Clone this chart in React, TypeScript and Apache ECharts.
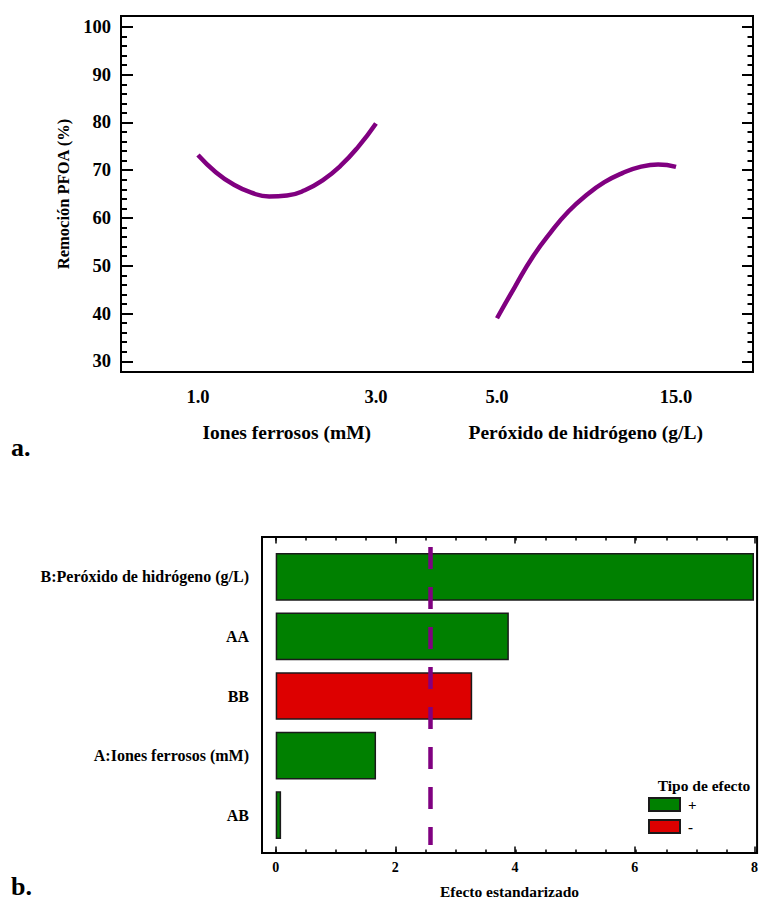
import React, { useEffect, useRef } from 'react';
import * as echarts from 'echarts';

const FONT = "'Liberation Serif', 'Times New Roman', Times, serif";
const PURPLE = '#800080';
const GREEN = '#008000';
const RED = '#DD0000';

// Panel a: main effects for PFOA removal
const ironLevels = [1.0, 1.2, 1.4, 1.6, 1.8, 2.0, 2.2, 2.4, 2.6, 2.8, 3.0];
const ironRemoval = [73.2, 69.6, 67.0, 65.3, 64.5, 64.7, 65.8, 67.9, 70.9, 74.9, 79.8];
const peroxideLevels = [5, 6, 7, 8, 9, 10, 11, 12, 13, 14, 15];
const peroxideRemoval = [39.0, 45.6, 51.9, 57.0, 61.4, 64.8, 67.5, 69.4, 70.7, 71.2, 70.7];
const removalTicks = [30, 40, 50, 60, 70, 80, 90, 100];
const removalMinorTicks = [30, 32, 34, 36, 38, 40, 42, 44, 46, 48, 50, 52, 54, 56, 58, 60, 62, 64, 66, 68, 70, 72, 74, 76, 78, 80, 82, 84, 86, 88, 90, 92, 94, 96, 98, 100];
const ironTicks = [1, 3];
const peroxideTicks = [5, 15];

// Panel b: standardized Pareto chart
const effectTerms = ['B:Peróxido de hidrógeno (g/L)', 'AA', 'BB', 'A:Iones ferrosos (mM)', 'AB'];
const effectValues = [7.96, 3.88, 3.27, 1.67, 0.09];
const effectSigns = ['+', '+', '-', '+', '+'];
const effectTicks = [0, 2, 4, 6, 8];
const effectMinorTicks = [0, 0.5, 1, 1.5, 2, 2.5, 3, 3.5, 4, 4.5, 5, 5.5, 6, 6.5, 7, 7.5, 8];
const criticalValue = 2.571;

const Y_MIN = 27.75;
const Y_MAX = 102.3;
const E_MIN = -0.228;
const E_MAX = 8.043;

const bold = (size: number) => ({ fontFamily: FONT, fontWeight: 'bold' as const, fontSize: size, color: '#000' });

export default function App() {
  const ref = useRef<HTMLDivElement>(null);

  useEffect(() => {
    if (!ref.current) return;
    const chart = echarts.init(ref.current, undefined, { renderer: 'svg' });

    const hiddenValue = (gridIndex: number, min = 0, max = 1) => ({ type: 'value', gridIndex, show: false, min, max });

    const option: any = {
      animation: false,
      backgroundColor: '#fff',
      textStyle: { fontFamily: FONT },
      grid: [
        { left: 121, top: 16, width: 632, height: 356, show: true, borderColor: '#000', borderWidth: 2, backgroundColor: 'transparent' },
        { left: 121, top: 16, width: 632, height: 356 },
        { left: 121, top: 16, width: 315.5, height: 356 },
        { left: 436.5, top: 16, width: 316.5, height: 356 },
        { left: 262, top: 537, width: 497, height: 316, show: true, borderColor: '#000', borderWidth: 2, backgroundColor: 'transparent' },
        { left: 262, top: 537, width: 497, height: 316 },
        { left: 262, top: 547, width: 497, height: 298 },
      ],
      xAxis: [
        hiddenValue(0),
        hiddenValue(1),
        {
          type: 'value', gridIndex: 2, min: 0.135, max: 3.68,
          axisLine: { show: false }, axisTick: { show: false }, splitLine: { show: false },
          axisLabel: { ...bold(18.5), margin: 15, customValues: ironTicks, formatter: (v: number) => v.toFixed(1) },
          name: 'Iones ferrosos (mM)', nameLocation: 'middle', nameGap: 50,
          nameTextStyle: { ...bold(19.5), padding: [0, 0, 0, 16] },
        },
        {
          type: 'value', gridIndex: 3, min: 1.62, max: 19.3,
          axisLine: { show: false }, axisTick: { show: false }, splitLine: { show: false },
          axisLabel: { ...bold(18.5), margin: 15, customValues: peroxideTicks, formatter: (v: number) => v.toFixed(1) },
          name: 'Peróxido de hidrógeno (g/L)', nameLocation: 'middle', nameGap: 50,
          nameTextStyle: { ...bold(19.5), padding: [0, 18, 0, 0] },
        },
        {
          type: 'value', gridIndex: 4, position: 'bottom', min: E_MIN, max: E_MAX,
          axisLine: { show: false }, splitLine: { show: false },
          axisTick: { show: true, inside: true, length: 6.5, customValues: effectTicks, lineStyle: { color: '#000', width: 1.5 } },
          axisLabel: { ...bold(14), margin: 7, customValues: effectTicks },
          name: 'Efecto estandarizado', nameLocation: 'middle', nameGap: 30,
          nameTextStyle: bold(15.5),
        },
        {
          type: 'value', gridIndex: 4, position: 'top', min: E_MIN, max: E_MAX,
          axisLine: { show: false }, splitLine: { show: false }, axisLabel: { show: false },
          axisTick: { show: true, inside: true, length: 6.5, customValues: effectTicks, lineStyle: { color: '#000', width: 1.5 } },
        },
        {
          type: 'value', gridIndex: 5, position: 'bottom', min: E_MIN, max: E_MAX,
          axisLine: { show: false }, splitLine: { show: false }, axisLabel: { show: false },
          axisTick: { show: true, inside: true, length: 3.5, customValues: effectMinorTicks, lineStyle: { color: '#000', width: 1.5 } },
        },
        {
          type: 'value', gridIndex: 5, position: 'top', min: E_MIN, max: E_MAX,
          axisLine: { show: false }, splitLine: { show: false }, axisLabel: { show: false },
          axisTick: { show: true, inside: true, length: 3.5, customValues: effectMinorTicks, lineStyle: { color: '#000', width: 1.5 } },
        },
        hiddenValue(6, E_MIN, E_MAX),
      ],
      yAxis: [
        {
          type: 'value', gridIndex: 0, position: 'left', min: Y_MIN, max: Y_MAX,
          axisLine: { show: false }, splitLine: { show: false },
          axisTick: { show: true, inside: true, length: 12, customValues: removalTicks, lineStyle: { color: '#000', width: 2 } },
          axisLabel: { ...bold(18.5), margin: 10, customValues: removalTicks },
          name: 'Remoción PFOA (%)', nameLocation: 'middle', nameGap: 47, nameRotate: 90,
          nameTextStyle: bold(16.5),
        },
        {
          type: 'value', gridIndex: 0, position: 'right', min: Y_MIN, max: Y_MAX,
          axisLine: { show: false }, splitLine: { show: false }, axisLabel: { show: false },
          axisTick: { show: true, inside: true, length: 11, customValues: removalTicks, lineStyle: { color: '#000', width: 2 } },
        },
        {
          type: 'value', gridIndex: 1, position: 'left', min: Y_MIN, max: Y_MAX,
          axisLine: { show: false }, splitLine: { show: false }, axisLabel: { show: false },
          axisTick: { show: true, inside: true, length: 6, customValues: removalMinorTicks, lineStyle: { color: '#000', width: 2 } },
        },
        {
          type: 'value', gridIndex: 1, position: 'right', min: Y_MIN, max: Y_MAX,
          axisLine: { show: false }, splitLine: { show: false }, axisLabel: { show: false },
          axisTick: { show: true, inside: true, length: 5.5, customValues: removalMinorTicks, lineStyle: { color: '#000', width: 2 } },
        },
        hiddenValue(2, Y_MIN, Y_MAX),
        hiddenValue(3, Y_MIN, Y_MAX),
        hiddenValue(4),
        hiddenValue(5),
        {
          type: 'category', gridIndex: 6, inverse: true, data: effectTerms,
          axisLine: { show: false }, axisTick: { show: false }, splitLine: { show: false },
          axisLabel: { ...bold(16), margin: 13 },
        },
      ],
      legend: {
        data: ['+', '-'],
        orient: 'vertical',
        left: 648,
        top: 797,
        padding: 0,
        itemGap: 7,
        itemWidth: 31,
        itemHeight: 13,
        icon: 'rect',
        textStyle: { ...bold(15), padding: [0, 0, 0, 3] },
        selectedMode: false,
      },
      graphic: [
        { type: 'text', left: 11, top: 434, style: { text: 'a.', font: `bold 26px ${FONT}`, fill: '#000' } },
        { type: 'text', left: 11, top: 873, style: { text: 'b.', font: `bold 26px ${FONT}`, fill: '#000' } },
        { type: 'text', x: 704, y: 785, style: { text: 'Tipo de efecto', font: `bold 15.5px ${FONT}`, fill: '#000', align: 'center', verticalAlign: 'middle' } },
      ],
      series: [
        {
          type: 'line', xAxisIndex: 2, yAxisIndex: 4,
          data: ironLevels.map((x, i) => [x, ironRemoval[i]]),
          smooth: true, symbol: 'none',
          lineStyle: { color: PURPLE, width: 4.5 },
        },
        {
          type: 'line', xAxisIndex: 3, yAxisIndex: 5,
          data: peroxideLevels.map((x, i) => [x, peroxideRemoval[i]]),
          smooth: true, symbol: 'none',
          lineStyle: { color: PURPLE, width: 4.5 },
        },
        {
          name: '+', type: 'bar', xAxisIndex: 8, yAxisIndex: 8, stack: 'effect',
          barCategoryGap: '20%',
          data: effectValues.map((v, i) => (effectSigns[i] === '+' ? v : '-')),
          itemStyle: { color: GREEN, borderColor: '#1a1a1a', borderWidth: 1.5 },
          markLine: {
            silent: true,
            symbol: ['none', 'none'],
            label: { show: false },
            lineStyle: { color: PURPLE, width: 4.5, type: [22, 18] },
            data: [{ xAxis: criticalValue }],
          },
        },
        {
          name: '-', type: 'bar', xAxisIndex: 8, yAxisIndex: 8, stack: 'effect',
          barCategoryGap: '20%',
          data: effectValues.map((v, i) => (effectSigns[i] === '-' ? v : '-')),
          itemStyle: { color: RED, borderColor: '#1a1a1a', borderWidth: 1.5 },
        },
      ],
    };

    chart.setOption(option);
    return () => chart.dispose();
  }, []);

  return <div ref={ref} style={{ position: 'fixed', left: 0, top: 0, width: 761, height: 902 }} />;
}
